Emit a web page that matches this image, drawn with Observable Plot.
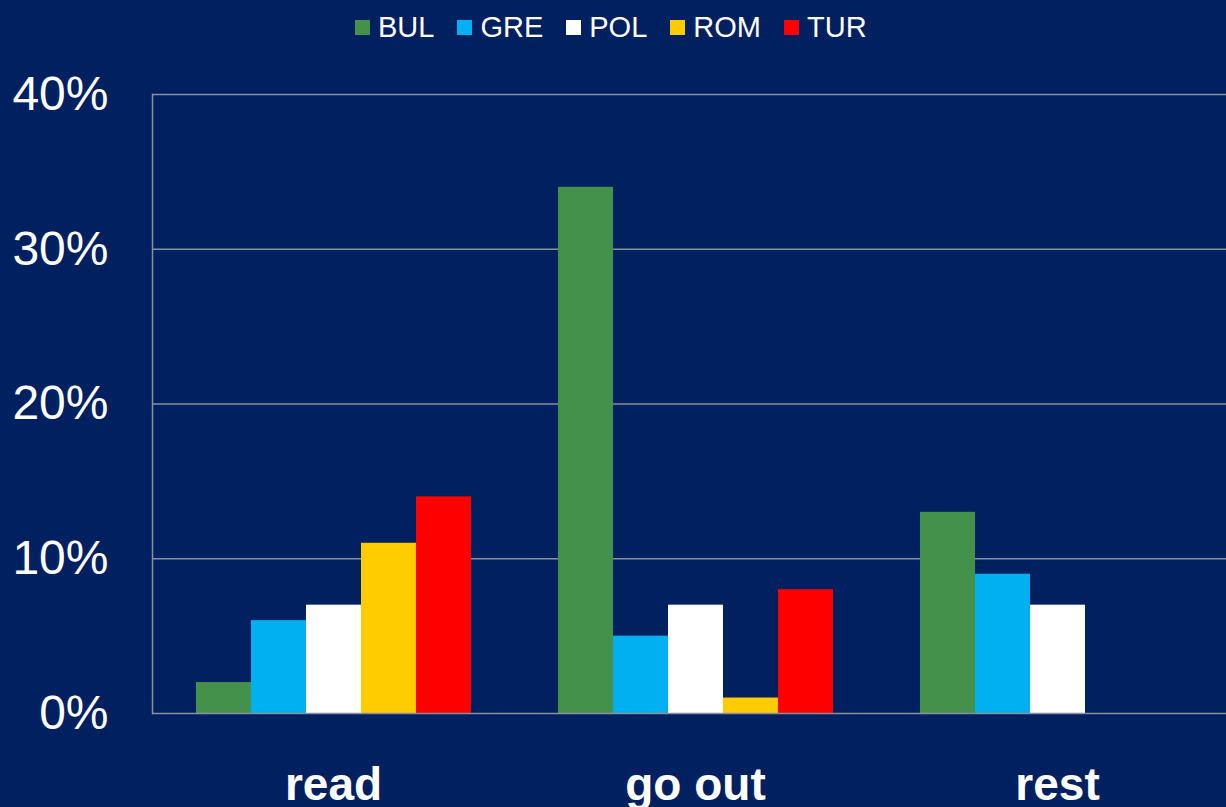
<!DOCTYPE html>
<html><head><meta charset="utf-8">
<script src="https://cdn.jsdelivr.net/npm/d3@7"></script>
<script src="https://cdn.jsdelivr.net/npm/@observablehq/plot@0.6"></script>
<style>
body{margin:0;background:#002060;width:1226px;height:807px;overflow:hidden;font-family:"Liberation Sans",Arial,sans-serif;}
#legend{height:55px;display:flex;align-items:center;padding-left:355px;box-sizing:border-box;color:white;font-size:29px;}
.item{display:flex;align-items:center;margin-right:23px;}
.sw{width:15px;height:15px;margin-right:8px;}
#chart svg{display:block;}
</style></head><body>
<div id="legend"></div><div id="chart"></div>
<script>
const activities = ["read", "go out", "rest"];
const countries = ["BUL", "GRE", "POL", "ROM", "TUR"];
const colors = ["#43914b", "#00b0f0", "#ffffff", "#ffcc00", "#ff0000"];
const readValues = [0.02, 0.06, 0.07, 0.11, 0.14];
const goOutValues = [0.34, 0.05, 0.07, 0.01, 0.08];
const restValues = [0.13, 0.09, 0.07, 0, 0];
const yTicks = [0, 0.1, 0.2, 0.3, 0.4];

const seriesByActivity = [readValues, goOutValues, restValues];
const data = [];
activities.forEach((a, i) => countries.forEach((c, j) => data.push({activity: a, country: c, value: seriesByActivity[i][j]})));

// legend
const legend = d3.select("#legend");
countries.forEach((c, j) => {
  const it = legend.append("div").attr("class", "item");
  it.append("div").attr("class", "sw").style("background", colors[j]);
  it.append("span").text(c);
});

const grid = "#8a8f9c";
const chart = Plot.plot({
  width: 1226,
  height: 752,
  marginTop: 39,
  marginBottom: 94,
  marginLeft: 152,
  marginRight: 0,
  style: {background: "transparent", color: "white", fontFamily: "'Liberation Sans', Arial, sans-serif"},
  fx: {domain: activities, range: [152, 1238], paddingInner: 0, paddingOuter: 0},
  x: {domain: countries, paddingInner: 0, paddingOuter: 0.755, axis: null},
  y: {domain: [0, 0.4]},
  color: {domain: countries, range: colors},
  marks: [
    Plot.gridY(yTicks.slice(1), {stroke: grid, strokeOpacity: 1, strokeWidth: 1.5}),
    Plot.barY(data, {fx: "activity", x: "country", y: "value", fill: "country"}),
    Plot.ruleY([0], {stroke: grid, strokeWidth: 1.5}),
    Plot.frame({anchor: "left", facet: "super", stroke: grid, strokeWidth: 1.5}),
    Plot.axisY(yTicks, {tickFormat: d3.format(".0%"), tickSize: 0, tickPadding: 44, fontSize: 48, fill: "white", label: null}),
    Plot.axisFx({anchor: "bottom", tickSize: 0, tickPadding: 54, fontSize: 46, fontWeight: "bold", fill: "white", label: null})
  ]
});
document.getElementById("chart").appendChild(chart);
</script>
</body></html>
